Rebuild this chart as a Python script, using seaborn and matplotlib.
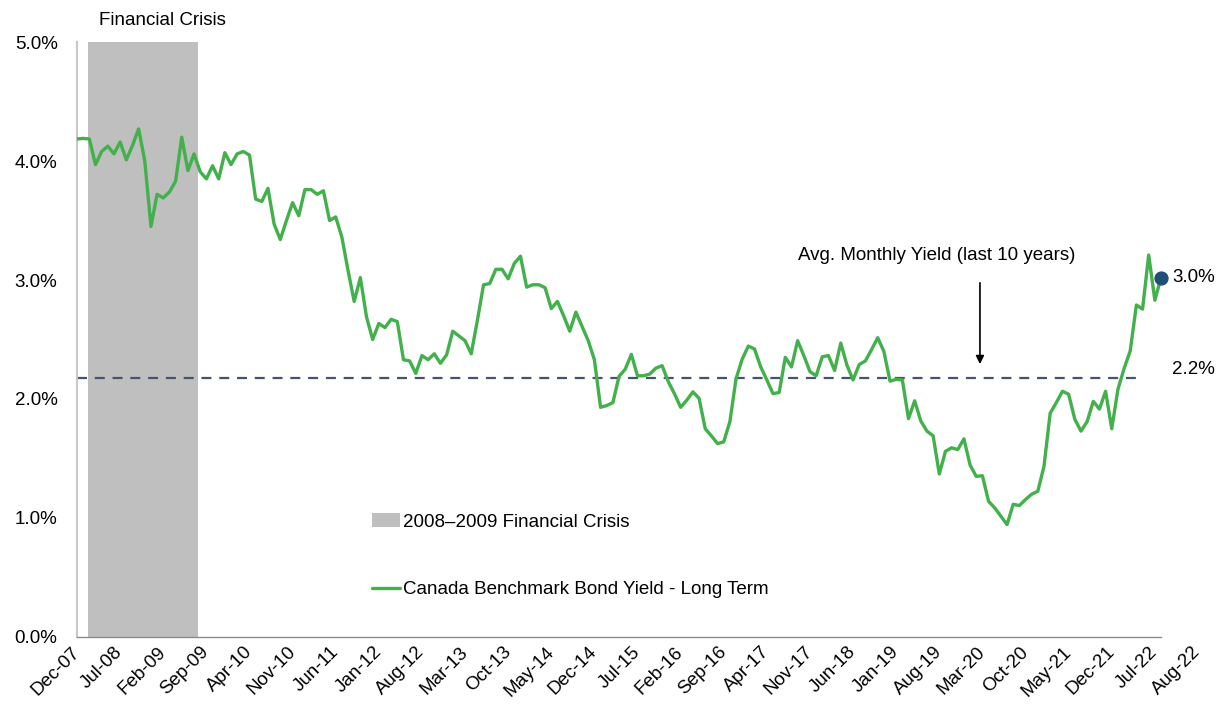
import matplotlib
matplotlib.use('Agg')
import matplotlib.pyplot as plt
import numpy as np
import pandas as pd
import seaborn as sns

# monthly yields (%), Dec-07 .. Aug-22
bond_yield = [
    4.185, 4.19, 4.185, 3.97, 4.08, 4.125, 4.06, 4.16, 4.01, 4.13,
    4.27, 4.00, 3.45, 3.72, 3.69, 3.74, 3.83, 4.20, 3.92, 4.06,
    3.91, 3.85, 3.96, 3.85, 4.07, 3.97, 4.06, 4.08, 4.05, 3.68,
    3.66, 3.77, 3.47, 3.34, 3.50, 3.65, 3.54, 3.76, 3.76, 3.72,
    3.75, 3.50, 3.53, 3.36, 3.08, 2.82, 3.02, 2.69, 2.50, 2.635,
    2.60, 2.67, 2.65, 2.33, 2.32, 2.215, 2.365, 2.33, 2.38, 2.30,
    2.37, 2.57, 2.53, 2.49, 2.38, 2.66, 2.96, 2.97, 3.09, 3.09,
    3.01, 3.14, 3.20, 2.94, 2.96, 2.96, 2.935, 2.76, 2.82, 2.70,
    2.57, 2.73, 2.61, 2.49, 2.33, 1.93, 1.945, 1.97, 2.19, 2.25,
    2.375, 2.195, 2.195, 2.21, 2.26, 2.28, 2.145, 2.045, 1.93, 1.99,
    2.06, 2.005, 1.75, 1.69, 1.625, 1.64, 1.81, 2.17, 2.335, 2.445,
    2.42, 2.27, 2.16, 2.045, 2.055, 2.35, 2.27, 2.49, 2.365, 2.23,
    2.195, 2.355, 2.365, 2.24, 2.47, 2.285, 2.16, 2.29, 2.32, 2.415,
    2.515, 2.40, 2.15, 2.165, 2.16, 1.835, 1.985, 1.815, 1.73, 1.69,
    1.37, 1.56, 1.59, 1.575, 1.665, 1.445, 1.35, 1.355, 1.14, 1.085,
    1.015, 0.945, 1.115, 1.105, 1.155, 1.20, 1.225, 1.435, 1.88, 1.97,
    2.065, 2.04, 1.83, 1.73, 1.81, 1.98, 1.915, 2.065, 1.75, 2.08,
    2.255, 2.405, 2.79, 2.755, 3.21, 2.83, 3.02,
]
avg_yield = 2.18
avg_label = '2.2%'
last_label = '3.0%'
crisis_start = 1.8   # months after Dec-07
crisis_end = 19.7
tick_labels = ['Dec-07', 'Jul-08', 'Feb-09', 'Sep-09', 'Apr-10', 'Nov-10', 'Jun-11',
               'Jan-12', 'Aug-12', 'Mar-13', 'Oct-13', 'May-14', 'Dec-14', 'Jul-15',
               'Feb-16', 'Sep-16', 'Apr-17', 'Nov-17', 'Jun-18', 'Jan-19', 'Aug-19',
               'Mar-20', 'Oct-20', 'May-21', 'Dec-21', 'Jul-22', 'Aug-22']

df = pd.DataFrame({'month': np.arange(len(bond_yield)), 'yield': bond_yield})
n_last = df['month'].iloc[-1]

sns.set_style('white')
plt.rcParams['font.family'] = ['Liberation Sans', 'DejaVu Sans']
plt.rcParams['text.color'] = 'black'

green = '#42B04B'
fig = plt.figure(figsize=(12.17, 7.04), dpi=100)
ax = fig.add_axes([0.0633, 0.0952, 0.8907, 0.8451])

ax.axvspan(crisis_start, crisis_end, color='#BFBFBF', lw=0, zorder=1,
           label='2008\u20132009 Financial Crisis')
sns.lineplot(data=df, x='month', y='yield', ax=ax, color=green, lw=2.4, zorder=3,
             label='Canada Benchmark Bond Yield - Long Term')
ax.hlines(avg_yield, 0, n_last - 4, colors='#44546A', lw=1.6,
          linestyles=(0, (4.5, 3.5)), zorder=2)
ax.scatter([n_last], [bond_yield[-1]], s=85, color='#1F4E79', zorder=4, clip_on=False)

ax.set_xlim(0, n_last)
ax.set_ylim(0, 5)
ax.set_yticks(np.arange(0, 6, 1))
ax.set_yticklabels([f'{v:.1f}%' for v in np.arange(0, 6, 1)], fontsize=13.5)
ticks = np.arange(0, n_last, 7)
ax.set_xticks(ticks)
ax.set_xticklabels(tick_labels[:len(ticks)], rotation=45, ha='right', va='center',
                   rotation_mode='anchor', fontsize=13.5)
ax.tick_params(axis='x', length=0, pad=9, labelcolor='black')
ax.tick_params(axis='y', length=0, pad=14, labelcolor='black')
# Excel puts the final label one step past the axis end
ax.annotate(tick_labels[-1], xy=(ticks[-1] + 7, 0), xycoords=ax.get_xaxis_transform(),
            xytext=(0, -9), textcoords='offset points', rotation=45, ha='right',
            va='center', rotation_mode='anchor', fontsize=13.5, annotation_clip=False)
ax.set_xlabel('')
ax.set_ylabel('')

for s in ['top', 'right']:
    ax.spines[s].set_visible(False)
ax.spines['left'].set_color('#C8C8C8')
ax.spines['left'].set_linewidth(1.5)
ax.spines['bottom'].set_color('#8C8C8C')
ax.spines['bottom'].set_linewidth(1.0)

ax.text(13.8, 1.037, 'Financial Crisis', transform=ax.get_xaxis_transform(),
        ha='center', va='center', fontsize=13.5)
ax.text(139.6, 3.21, 'Avg. Monthly Yield (last 10 years)', ha='center', va='center',
        fontsize=13.5)
ax.annotate('', xy=(146.6, 2.27), xytext=(146.6, 3.0),
            arrowprops=dict(arrowstyle='-|>', color='black', lw=1.2, mutation_scale=12))
ax.annotate(last_label, xy=(n_last, bond_yield[-1]), xytext=(8, 0),
            textcoords='offset points', va='center', ha='left', fontsize=13.5,
            annotation_clip=False)
ax.annotate(avg_label, xy=(n_last, avg_yield), xytext=(8, 6),
            textcoords='offset points', va='center', ha='left', fontsize=13.5,
            annotation_clip=False)

ax.legend(loc='lower left', bbox_to_anchor=(0.272, 0.065), frameon=False,
          fontsize=13.5, labelspacing=2.7, handlelength=1.5, handletextpad=0.15,
          borderpad=0, borderaxespad=0, labelcolor='black')

fig.savefig('out.png', dpi=100)
